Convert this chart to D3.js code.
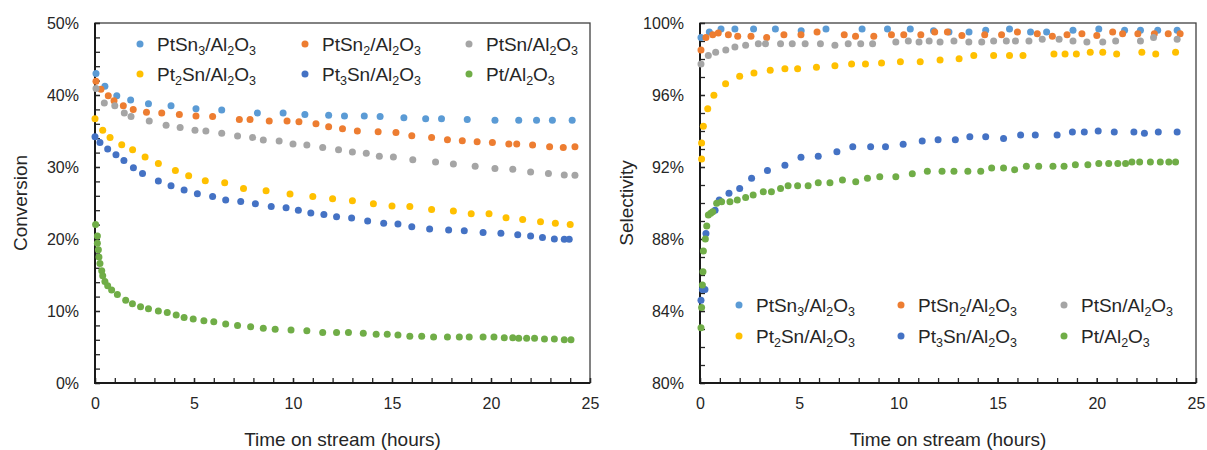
<!DOCTYPE html>
<html lang="en">
<head>
<meta charset="UTF-8">
<title>Conversion and selectivity vs time on stream</title>
<script src="https://d3js.org/d3.v7.min.js"></script>
<style>
  body { margin: 0; background: #fff; font-family: "Liberation Sans", Arial, sans-serif; }
  svg text { fill: #262626; }
  .axis path { display: none; }
  .axis line { stroke: #262626; stroke-width: 1.3; }
</style>
</head>
<body>
<svg id="chart" width="1207" height="450"></svg>
<script>
// series names, colours (same order in both panels)
const names = ["PtSn3/Al2O3", "PtSn2/Al2O3", "PtSn/Al2O3", "Pt2Sn/Al2O3", "Pt3Sn/Al2O3", "Pt/Al2O3"];
const colors = ["#5B9BD5", "#ED7D31", "#A5A5A5", "#FFC000", "#4472C4", "#70AD47"];

// conversion (%) vs time (h)
const convPtSn3 = [[0.05,43.0],[0.5,41.2],[1.1,39.9],[1.8,39.3],[2.7,38.8],[3.84,38.5],[5.1,38.1],[6.4,37.9],[8.2,37.5],[9.5,37.5],[10.6,37.3],[11.8,37.2],[12.6,37.1],[13.6,37.1],[14.4,37.0],[15.6,36.85],[16.7,36.7],[17.5,36.7],[18.8,36.6],[20.2,36.5],[21.4,36.5],[22.3,36.5],[23.1,36.5],[24.1,36.5]];
const convPtSn2 = [[0.05,41.9],[0.3,40.8],[0.67,39.9],[0.96,39.2],[1.43,38.5],[1.93,38.0],[2.6,37.6],[3.37,37.5],[4.26,37.3],[5.1,37.1],[5.94,37.0],[7.29,36.6],[7.83,36.6],[8.8,36.4],[9.7,36.4],[10.3,36.3],[11.16,36.0],[11.8,35.6],[12.5,35.3],[13.25,35.0],[14.3,34.9],[15.2,34.8],[16.0,34.35],[17.0,34.1],[17.8,33.8],[18.55,33.65],[19.3,33.5],[20.07,33.4],[20.9,33.2],[21.3,33.2],[22.1,33.05],[22.96,32.8],[23.65,32.7],[24.24,32.8]];
const convPtSn = [[0.05,40.9],[0.47,38.9],[1.0,38.5],[1.48,37.5],[1.82,37.0],[2.74,36.4],[3.59,35.8],[4.3,35.5],[5.05,35.1],[5.6,35.0],[6.4,34.7],[7.2,34.3],[7.96,34.1],[8.5,33.75],[9.3,33.6],[10.0,33.2],[10.7,33.05],[11.5,32.7],[12.3,32.4],[13.0,32.1],[13.7,31.9],[14.36,31.5],[15.07,31.4],[16.05,31.0],[17.2,30.7],[18.1,30.4],[19.2,30.1],[20.2,29.8],[21.1,29.7],[22.0,29.3],[22.9,29.1],[23.7,28.9],[24.24,28.85]];
const convPt2Sn = [[0.0,36.7],[0.39,35.1],[0.76,34.1],[1.35,33.1],[1.9,32.4],[2.53,31.4],[3.2,30.5],[4.06,29.5],[4.73,28.8],[5.57,28.1],[6.55,27.8],[7.5,27.0],[8.64,26.7],[9.85,26.25],[11.0,25.9],[12.0,25.6],[13.0,25.3],[14.06,24.9],[15.0,24.6],[15.9,24.5],[17.0,24.1],[18.1,23.9],[19.0,23.5],[19.9,23.5],[20.76,22.96],[21.6,22.7],[22.5,22.4],[23.25,22.2],[24.0,22.0]];
const convPt3Sn = [[0.0,34.2],[0.25,33.4],[0.64,32.5],[1.06,31.7],[1.46,30.9],[1.94,29.9],[2.4,29.1],[3.2,28.05],[3.84,27.4],[4.5,26.8],[5.17,26.3],[5.94,25.9],[6.6,25.4],[7.36,25.2],[8.1,24.9],[8.9,24.5],[9.65,24.35],[10.27,24.0],[10.9,23.6],[11.56,23.4],[12.2,23.1],[12.96,22.9],[13.77,22.5],[14.58,22.2],[15.3,22.1],[16.0,21.7],[16.9,21.4],[17.86,21.25],[18.65,21.15],[19.6,20.9],[20.5,20.8],[21.35,20.6],[22.0,20.4],[22.6,20.2],[23.2,20.0],[23.7,19.95],[23.95,19.95]];
const convPt = [[0.03,22.0],[0.12,20.4],[0.12,19.4],[0.17,18.5],[0.2,17.5],[0.25,16.6],[0.34,15.6],[0.39,14.9],[0.5,14.1],[0.64,13.5],[0.84,12.9],[1.13,12.3],[1.55,11.5],[1.89,11.0],[2.3,10.6],[2.7,10.3],[3.2,10.0],[3.65,9.8],[4.1,9.45],[4.5,9.1],[4.96,8.9],[5.5,8.65],[6.0,8.5],[6.6,8.2],[7.2,8.0],[7.86,7.8],[8.5,7.6],[9.1,7.45],[9.9,7.36],[10.7,7.26],[11.5,7.0],[12.2,7.0],[12.8,7.0],[13.55,6.9],[14.2,6.76],[14.76,6.76],[15.3,6.67],[15.9,6.5],[16.5,6.5],[17.1,6.4],[17.8,6.4],[18.4,6.4],[18.9,6.4],[19.6,6.4],[20.15,6.4],[20.67,6.3],[21.1,6.3],[21.4,6.2],[21.8,6.2],[22.2,6.2],[22.7,6.1],[23.2,6.1],[23.7,6.0],[24.04,6.0]];

// selectivity (%) vs time (h)
const selPtSn3 = [[0.05,99.2],[0.47,99.5],[1.06,99.67],[1.76,99.67],[2.7,99.67],[3.8,99.67],[5.1,99.57],[6.35,99.67],[8.17,99.67],[9.45,99.67],[10.6,99.67],[11.77,99.57],[12.55,99.5],[13.56,99.5],[14.4,99.6],[15.6,99.67],[16.66,99.5],[17.47,99.5],[18.8,99.6],[20.1,99.67],[21.4,99.6],[22.2,99.6],[23.07,99.6],[24.05,99.6]];
const selPtSn2 = [[0.05,98.5],[0.3,99.2],[0.64,99.35],[0.92,99.44],[1.43,99.35],[1.9,99.26],[2.57,99.26],[3.36,99.2],[4.23,99.35],[5.09,99.35],[5.9,99.5],[7.27,99.35],[7.84,99.26],[8.76,99.26],[9.65,99.35],[10.27,99.35],[11.13,99.35],[11.83,99.5],[12.47,99.5],[13.2,99.3],[14.35,99.35],[15.2,99.35],[16.0,99.5],[17.0,99.4],[17.76,99.26],[18.5,99.35],[19.25,99.4],[20.0,99.3],[20.8,99.5],[21.3,99.4],[22.07,99.4],[22.9,99.4],[23.6,99.4],[24.2,99.4]];
const selPtSn = [[0.05,97.72],[0.42,98.2],[0.79,98.37],[1.3,98.5],[1.76,98.67],[2.3,98.76],[2.94,98.85],[3.3,98.85],[4.06,98.85],[4.65,98.85],[5.3,98.85],[6.07,98.85],[6.8,98.76],[7.47,98.85],[8.1,98.85],[8.7,98.85],[9.87,98.94],[10.5,99.0],[11.04,98.94],[11.55,99.0],[12.1,98.94],[12.8,99.0],[13.55,98.94],[14.2,98.94],[14.8,99.0],[15.44,99.0],[15.9,99.0],[16.58,99.0],[17.25,99.1],[18.1,99.1],[18.8,99.0],[19.5,98.94],[20.3,98.94],[20.95,99.0],[22.2,99.0],[22.86,99.2],[24.05,99.1]];
const selPt2Sn = [[0.08,92.44],[0.08,93.33],[0.17,94.26],[0.39,95.24],[0.7,95.98],[1.29,96.63],[2.0,97.04],[2.72,97.22],[3.54,97.37],[4.28,97.46],[4.92,97.46],[5.87,97.54],[6.8,97.63],[7.64,97.72],[8.34,97.72],[9.15,97.78],[10.1,97.85],[11.1,97.85],[12.1,97.94],[13.06,98.02],[13.8,98.2],[14.8,98.2],[15.6,98.2],[16.28,98.2],[17.84,98.28],[18.4,98.28],[18.97,98.28],[19.67,98.37],[20.3,98.37],[21.0,98.28],[22.27,98.37],[22.97,98.28],[23.97,98.37]];
const selPt3Sn = [[0.05,84.6],[0.12,85.2],[0.25,85.2],[0.3,88.3],[0.76,89.6],[0.97,90.17],[1.46,90.54],[2.0,90.8],[2.6,91.37],[3.4,91.8],[4.28,92.1],[5.09,92.54],[5.96,92.6],[6.9,92.85],[7.7,93.13],[8.6,93.13],[9.35,93.13],[10.24,93.26],[11.2,93.44],[12.0,93.52],[12.87,93.52],[13.6,93.68],[14.4,93.68],[15.3,93.59],[16.16,93.78],[16.9,93.78],[18.0,93.78],[18.77,93.94],[19.37,93.94],[20.07,94.0],[20.88,93.94],[21.87,93.94],[22.4,93.87],[23.1,93.94],[24.05,93.94]];
const selPt = [[0.05,83.07],[0.08,84.2],[0.12,85.44],[0.15,86.18],[0.17,87.33],[0.27,88.0],[0.34,88.72],[0.42,89.33],[0.54,89.43],[0.64,89.52],[0.84,89.98],[1.09,90.07],[1.51,90.07],[1.88,90.17],[2.3,90.3],[2.68,90.44],[3.19,90.63],[3.6,90.63],[4.06,90.81],[4.44,90.96],[4.92,90.96],[5.45,90.96],[5.96,91.13],[6.55,91.13],[7.18,91.28],[7.85,91.18],[8.44,91.37],[9.06,91.46],[9.87,91.46],[10.7,91.63],[11.46,91.76],[12.2,91.76],[12.8,91.76],[13.5,91.76],[14.15,91.76],[14.7,91.94],[15.3,91.94],[15.86,91.85],[16.45,92.04],[17.07,92.04],[17.79,92.04],[18.35,92.04],[18.92,92.13],[19.55,92.13],[20.1,92.2],[20.6,92.2],[21.06,92.2],[21.45,92.2],[21.77,92.28],[22.16,92.28],[22.7,92.28],[23.2,92.28],[23.63,92.28],[23.97,92.28]];

// axis ticks
const xTicks = [0, 5, 10, 15, 20, 25];
const convTicks = [0, 10, 20, 30, 40, 50];
const selTicks = [80, 84, 88, 92, 96, 100];

const svg = d3.select("#chart");

// label with digits as subscripts
function chemText(sel, str) {
  let sub = false;
  str.split(/(\d)/).filter(s => s !== "").forEach(part => {
    const isDigit = /\d/.test(part);
    const t = sel.append("tspan").text(part);
    if (isDigit && !sub) { t.attr("font-size", 12.5).attr("dy", 4); sub = true; }
    else if (!isDigit && sub) { t.attr("dy", -4); sub = false; }
    else if (isDigit) t.attr("font-size", 12.5);
  });
}

function panel(p) {
  const x = d3.scaleLinear().domain([0, 25]).range([p.left, p.right]);
  const y = d3.scaleLinear().domain(p.yDomain).range([p.bottom, p.top]);
  const g = svg.append("g");

  // frame
  g.append("rect")
    .attr("x", p.left).attr("y", p.top)
    .attr("width", p.right - p.left).attr("height", p.bottom - p.top)
    .attr("fill", "none").attr("stroke", "#404040").attr("stroke-width", 1.3);

  // minor ticks
  g.append("g").attr("class", "axis")
    .attr("transform", `translate(0,${p.bottom})`)
    .call(d3.axisBottom(x).tickValues(d3.range(0, 26)).tickSizeInner(-5).tickSizeOuter(0).tickFormat(""));
  g.append("g").attr("class", "axis")
    .attr("transform", `translate(${p.left},0)`)
    .call(d3.axisLeft(y).tickValues(d3.range(p.yDomain[0], p.yDomain[1] + 0.01, p.yMinor)).tickSizeInner(-5).tickSizeOuter(0).tickFormat(""));

  // major ticks + labels
  const xa = g.append("g").attr("class", "axis")
    .attr("transform", `translate(0,${p.bottom})`)
    .call(d3.axisBottom(x).tickValues(xTicks).tickSizeInner(-5).tickSizeOuter(0).tickPadding(15));
  xa.selectAll("text").attr("font-size", 16).attr("font-family", "Liberation Sans, Arial, sans-serif").attr("fill", "#262626");
  const ya = g.append("g").attr("class", "axis")
    .attr("transform", `translate(${p.left},0)`)
    .call(d3.axisLeft(y).tickValues(p.yTicks).tickSizeInner(-5).tickSizeOuter(0).tickPadding(16).tickFormat(d => d + "%"));
  ya.selectAll("text").attr("font-size", 16).attr("font-family", "Liberation Sans, Arial, sans-serif").attr("fill", "#262626");

  // left and bottom axis lines
  g.append("line").attr("x1", p.left).attr("x2", p.left).attr("y1", p.top).attr("y2", p.bottom + 1)
    .attr("stroke", "#1a1a1a").attr("stroke-width", 2);
  g.append("line").attr("x1", p.left - 1).attr("x2", p.right).attr("y1", p.bottom).attr("y2", p.bottom)
    .attr("stroke", "#1a1a1a").attr("stroke-width", 2);

  // titles
  g.append("text")
    .attr("x", (p.left + p.right) / 2).attr("y", 446)
    .attr("text-anchor", "middle").attr("font-size", 19)
    .text("Time on stream (hours)");
  g.append("text")
    .attr("transform", `translate(${p.yTitleX},${(p.top + p.bottom) / 2}) rotate(-90)`)
    .attr("text-anchor", "middle").attr("font-size", 19)
    .text(p.yTitle);

  // points
  p.series.forEach((s, i) => {
    g.append("g").selectAll("circle")
      .data(s)
      .join("circle")
      .attr("cx", d => x(d[0]))
      .attr("cy", d => y(d[1]))
      .attr("r", 3.5)
      .attr("fill", colors[i]);
  });

  // legend (3 columns x 2 rows)
  names.forEach((n, i) => {
    const col = i % 3, row = Math.floor(i / 3);
    const lx = p.legendX[col], ly = p.legendY[row];
    g.append("circle").attr("cx", lx).attr("cy", ly).attr("r", 3.5).attr("fill", colors[i]);
    const t = g.append("text").attr("x", lx + 17).attr("y", ly + 6.5).attr("font-size", 19);
    chemText(t, n);
  });
}

panel({
  left: 95, right: 590, top: 23, bottom: 383,
  yDomain: [0, 50], yTicks: convTicks, yMinor: 2,
  yTitle: "Conversion", yTitleX: 27,
  series: [convPtSn3, convPtSn2, convPtSn, convPt2Sn, convPt3Sn, convPt],
  legendX: [140, 305, 469], legendY: [44, 74]
});

panel({
  left: 700, right: 1196, top: 23, bottom: 383,
  yDomain: [80, 100], yTicks: selTicks, yMinor: 1,
  yTitle: "Selectivity", yTitleX: 633,
  series: [selPtSn3, selPtSn2, selPtSn, selPt2Sn, selPt3Sn, selPt],
  legendX: [739, 901, 1064], legendY: [305, 336]
});
</script>
</body>
</html>
